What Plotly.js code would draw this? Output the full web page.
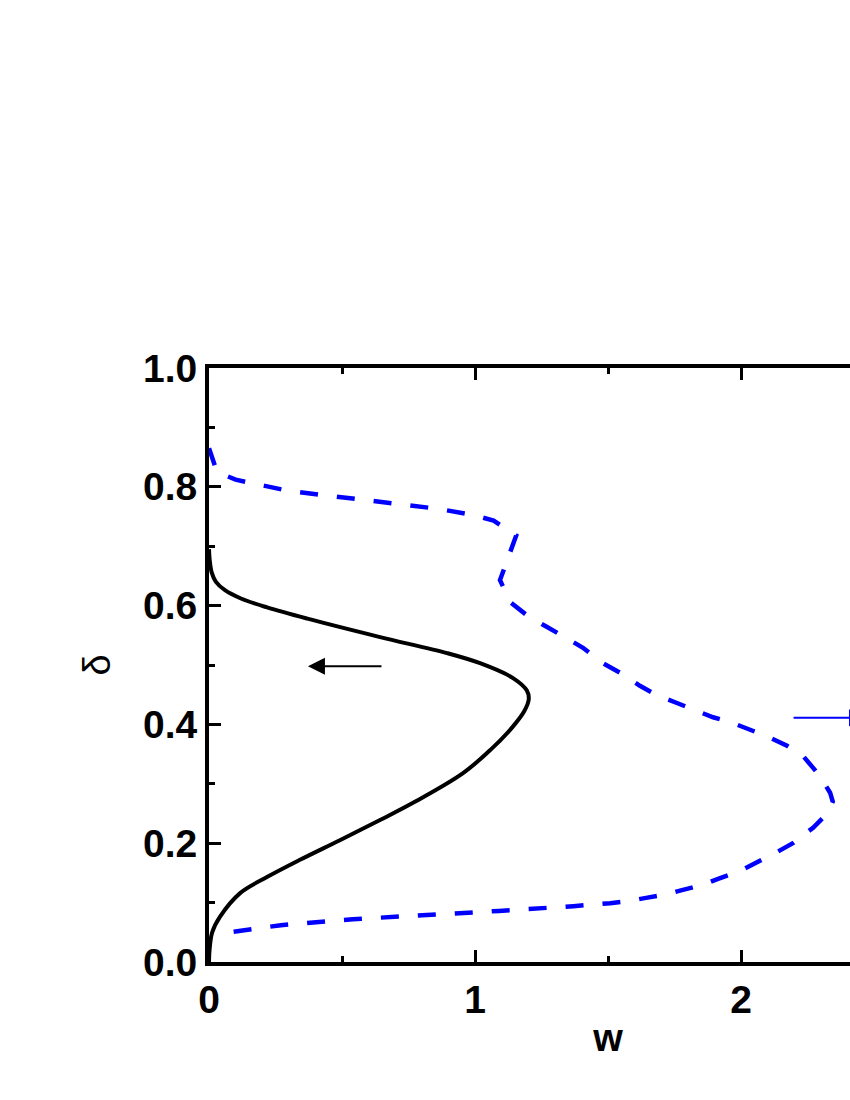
<!DOCTYPE html>
<html>
<head>
<meta charset="utf-8">
<script src="https://cdn.plot.ly/plotly-3.0.1.min.js"></script>
<style>
  html, body { margin: 0; padding: 0; background: #fff; overflow: hidden; }
  #myDiv { width: 1060px; height: 1100px; }
</style>
</head>
<body>
<div id="myDiv"></div>
<script>
// solid black curve: w (x) vs delta (y)
const blackW = [0, 0.002, 0.012, 0.041, 0.117, 0.218, 0.342, 0.492, 0.643, 0.767, 0.955, 1.06, 1.14, 1.185, 1.202,
  1.195, 1.143, 1.019, 0.895, 0.643, 0.37, 0.218, 0.12, 0.060, 0.026, 0.010, 0.003, 0];
const blackD = [0, 0.02, 0.05, 0.076, 0.116, 0.143, 0.172, 0.205, 0.239, 0.268, 0.318, 0.358, 0.395, 0.422, 0.442,
  0.457, 0.478, 0.503, 0.520, 0.547, 0.578, 0.597, 0.612, 0.626, 0.640, 0.656, 0.675, 0.695];

// dashed blue curve
const blueW = [0, 0.03, 0.10, 0.30, 0.58, 0.86, 0.99, 1.07, 1.155, 1.094, 1.132, 1.203, 1.271, 1.346,
  1.406, 1.481, 1.545, 1.62, 1.684, 1.759, 1.82, 1.895, 1.959, 2.034, 2.098, 2.173, 2.233, 2.297,
  2.335, 2.345, 2.327, 2.271, 2.195, 2.135, 2.056, 1.996, 1.914, 1.857, 1.778, 1.722, 1.643, 1.583,
  1.508, 1.37, 1.09, 0.82, 0.54, 0.27, 0.06];
const blueD = [0.865, 0.825, 0.812, 0.793, 0.778, 0.763, 0.753, 0.743, 0.718, 0.643, 0.606, 0.581, 0.564, 0.545,
  0.529, 0.503, 0.487, 0.465, 0.449, 0.436, 0.426, 0.412, 0.404, 0.392, 0.380, 0.364, 0.347, 0.313,
  0.285, 0.270, 0.251, 0.226, 0.200, 0.185, 0.168, 0.153, 0.140, 0.130, 0.121, 0.114, 0.108, 0.103,
  0.099, 0.094, 0.086, 0.079, 0.072, 0.062, 0.049];

// axis ticks
const xTicks = [0, 1, 2];
const yTicks = [0, 0.2, 0.4, 0.6, 0.8, 1.0];

// arrows: [tailW, headW, delta]
const blackArrow = [0.654, 0.372, 0.498];
const blueArrow = [2.192, 2.47, 0.411];

const fontFam = 'Arial, "Liberation Sans", sans-serif';
const tickFont = { family: fontFam, size: 39, color: 'black', weight: 'bold' };

const traces = [
  {
    x: blackW, y: blackD, mode: 'lines', line: { color: 'black', width: 4, shape: 'spline', smoothing: 1 },
    hoverinfo: 'skip'
  },
  {
    x: blueW, y: blueD, mode: 'lines', line: { color: '#0000ff', width: 4.5, dash: '18px,19px' },
    hoverinfo: 'skip'
  }
];

function axis(ticks, minorDtick, range) {
  return {
    range: range, tickmode: 'array', tickvals: ticks,
    ticks: 'inside', ticklen: 12, tickwidth: 3, tickcolor: 'black',
    minor: { dtick: minorDtick, tick0: 0, ticks: 'inside', ticklen: 6, tickwidth: 3, tickcolor: 'black' },
    showline: true, linewidth: 4, linecolor: 'black', mirror: 'ticks',
    showgrid: false, zeroline: false, tickfont: tickFont
  };
}

const xaxis = axis(xTicks, 0.5, [0, 3]);
xaxis.title = { text: 'w', font: { family: fontFam, size: 38, color: 'black', weight: 'bold' }, standoff: 6 };
const yaxis = axis(yTicks, 0.1, [0, 1]);
yaxis.tickformat = '.1f';
yaxis.title = { text: 'δ', font: { family: fontFam, size: 38, color: 'black' }, standoff: 22 };

const layout = {
  width: 1060, height: 1100,
  margin: { l: 209, r: 53, t: 368, b: 138 },
  paper_bgcolor: 'white', plot_bgcolor: 'white',
  showlegend: false,
  xaxis: xaxis, yaxis: yaxis,
  annotations: [
    {
      x: blackArrow[1], y: blackArrow[2], ax: blackArrow[0], ay: blackArrow[2],
      xref: 'x', yref: 'y', axref: 'x', ayref: 'y', text: '', showarrow: true,
      arrowhead: 2, arrowsize: 1.7, arrowwidth: 2, arrowcolor: 'black', standoff: 0
    },
    {
      x: blueArrow[1], y: blueArrow[2], ax: blueArrow[0], ay: blueArrow[2],
      xref: 'x', yref: 'y', axref: 'x', ayref: 'y', text: '', showarrow: true,
      arrowhead: 2, arrowsize: 1.7, arrowwidth: 2, arrowcolor: '#0000ff', standoff: 0
    }
  ]
};

Plotly.newPlot('myDiv', traces, layout, { staticPlot: true });
</script>
</body>
</html>
